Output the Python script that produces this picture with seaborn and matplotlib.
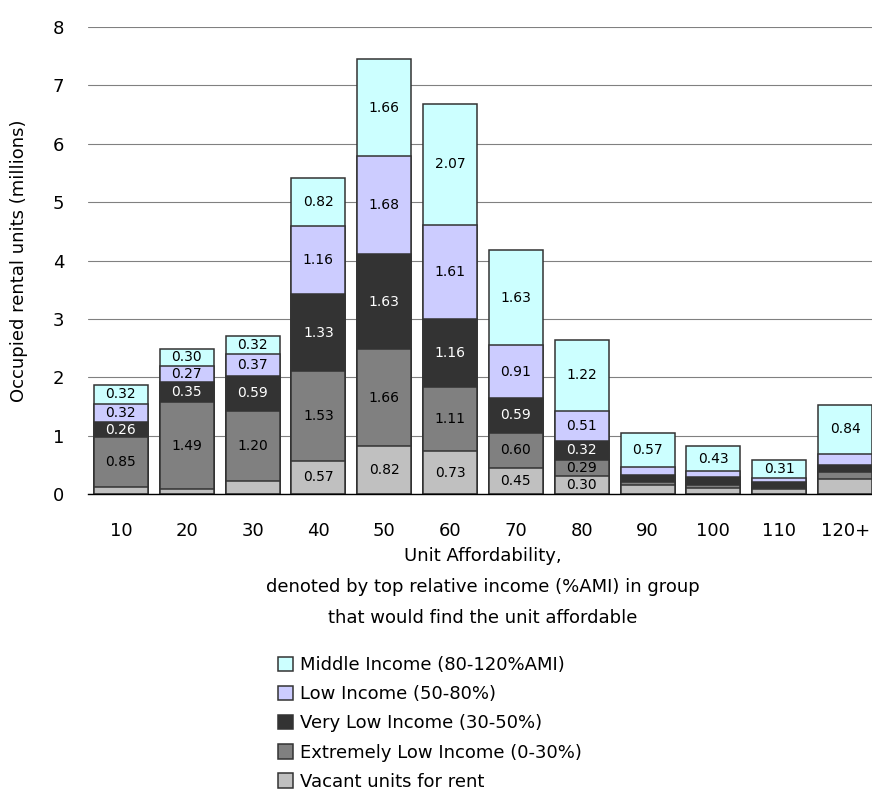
import matplotlib
matplotlib.use("Agg")
import matplotlib.pyplot as plt
import numpy as np
import pandas as pd
import seaborn as sns
from matplotlib.patches import Patch

# unit affordability groups (top %AMI)
categories = ['10', '20', '30', '40', '50', '60', '70', '80', '90', '100', '110', '120+']

# occupied rental units, millions (bottom -> top of each stack)
vacant = [0.12, 0.08, 0.23, 0.57, 0.82, 0.73, 0.45, 0.30, 0.16, 0.10, 0.08, 0.25]
extremely_low = [0.85, 1.49, 1.20, 1.53, 1.66, 1.11, 0.60, 0.29, 0.05, 0.06, 0.03, 0.12]
very_low = [0.26, 0.35, 0.59, 1.33, 1.63, 1.16, 0.59, 0.32, 0.12, 0.13, 0.10, 0.12]
low = [0.32, 0.27, 0.37, 1.16, 1.68, 1.61, 0.91, 0.51, 0.14, 0.10, 0.07, 0.20]
middle = [0.32, 0.30, 0.32, 0.82, 1.66, 2.07, 1.63, 1.22, 0.57, 0.43, 0.31, 0.84]

series_names = ['Vacant units for rent', 'Extremely Low Income (0-30%)',
                'Very Low Income (30-50%)', 'Low Income (50-80%)',
                'Middle Income (80-120%AMI)']
series_vals = [vacant, extremely_low, very_low, low, middle]
colors = ['#C0C0C0', '#808080', '#333333', '#CCCCFF', '#CCFFFF']
text_colors = ['black', 'black', 'white', 'black', 'black']

df = pd.DataFrame(dict(zip(series_names, series_vals)), index=categories)
cum = df.cumsum(axis=1)

sns.set_style("white")
plt.rcParams['font.family'] = ['DejaVu Sans']
plt.rcParams['text.color'] = 'black'
plt.rcParams['axes.labelcolor'] = 'black'
plt.rcParams['xtick.color'] = 'black'
plt.rcParams['ytick.color'] = 'black'

fs = 13
edge = '#333333'

fig = plt.figure(figsize=(8.72, 7.91), dpi=100)
ax = fig.add_axes([88 / 872, 1 - 494 / 791, 790 / 872, 467 / 791])

# draw tallest cumulative layer first, lower layers on top
for i in range(len(series_names) - 1, -1, -1):
    sns.barplot(x=categories, y=cum.iloc[:, i].values, order=categories,
                color=colors[i], saturation=1, width=0.82, errorbar=None,
                edgecolor=edge, linewidth=1.1, ax=ax)

# value labels on segments large enough
for i, name in enumerate(series_names):
    bottoms = cum.iloc[:, i] - df[name]
    for j, v in enumerate(df[name]):
        if v >= 0.26:
            ax.text(j, bottoms.iloc[j] + v / 2, f'{v:.2f}', ha='center', va='center',
                    fontsize=10, color=text_colors[i])

ax.set_xlim(-0.5, 11.5)
ax.set_ylim(0, 8)
ax.set_yticks(range(0, 9))
ax.yaxis.grid(True, color='#808080', linewidth=0.8)
ax.set_axisbelow(True)
for s in ['left', 'top', 'right']:
    ax.spines[s].set_visible(False)
ax.spines['bottom'].set_color('black')
ax.spines['bottom'].set_linewidth(1)

ax.set_xticks(np.arange(-0.5, 11, 1), minor=True)
ax.tick_params(axis='x', which='minor', length=7, width=1, color='black', direction='out')
ax.tick_params(axis='x', which='major', length=0, pad=20, labelsize=fs)
ax.tick_params(axis='y', length=0, pad=17, labelsize=fs)

ax.set_ylabel('Occupied rental units (millions)', fontsize=fs, labelpad=18)
ax.set_xlabel('Unit Affordability,\ndenoted by top relative income (%AMI) in group\n'
              'that would find the unit affordable', fontsize=fs, linespacing=1.95,
              labelpad=5)

handles = [Patch(facecolor=colors[i], edgecolor=edge, linewidth=1.1)
           for i in range(len(series_names) - 1, -1, -1)]
labels = series_names[::-1]
fig.legend(handles, labels, loc='upper left', bbox_to_anchor=(278 / 872, 1 - 656 / 791),
           frameon=False, fontsize=fs, handlelength=0.85, handleheight=0.85,
           handletextpad=0.35, labelspacing=0.62, borderpad=0, borderaxespad=0)

plt.savefig('out.png', dpi=100)
